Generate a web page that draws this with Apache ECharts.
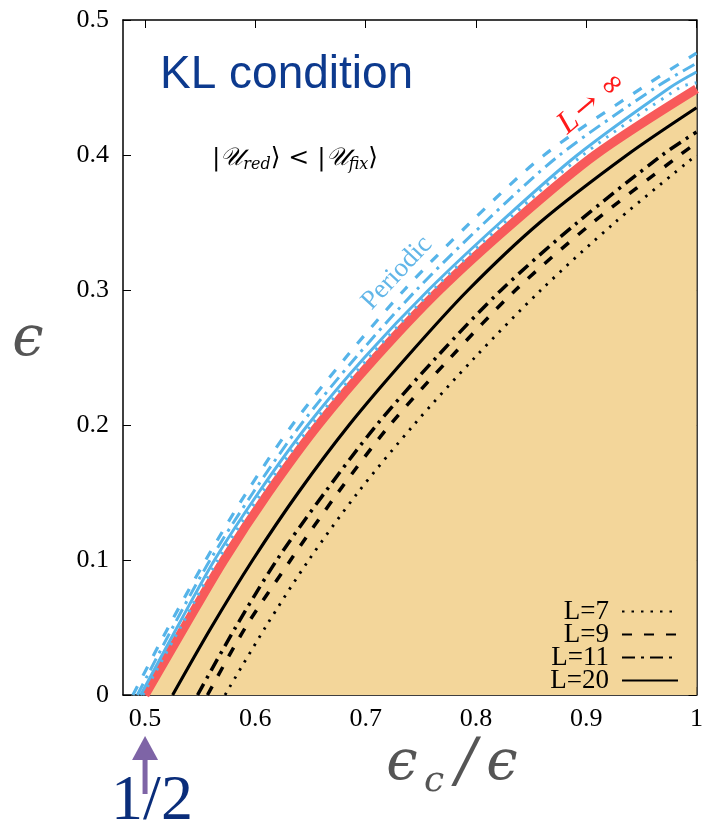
<!DOCTYPE html>
<html><head><meta charset="utf-8">
<script src="https://cdn.jsdelivr.net/npm/echarts@6/dist/echarts.min.js"></script>
<style>html,body{margin:0;padding:0;background:#fff}#c{width:706px;height:824px}</style>
</head><body><div id="c"></div>
<script>
// ---- data (x = eps_c/eps, y = eps) ----
const xTicks = [0.5, 0.6, 0.7, 0.8, 0.9, 1];
const yTicks = [0, 0.1, 0.2, 0.3, 0.4, 0.5];
const legendNames = ['L=7', 'L=9', 'L=11', 'L=20'];

const limitInf = [[0.5,0],[0.5355,0.05],[0.5716,0.1],[0.612,0.15],[0.657,0.2],[0.709,0.25],[0.767,0.3],[0.834,0.35],[0.908,0.4],[1.0,0.449]];
const open20 = [[0.525,0],[0.560,0.05],[0.5976,0.1],[0.639,0.15],[0.685,0.2],[0.737,0.25],[0.793,0.3],[0.858,0.35],[0.937,0.4],[1.0,0.435]];
const open11 = [[0.5476,0],[0.582,0.05],[0.6195,0.1],[0.663,0.15],[0.710,0.2],[0.764,0.25],[0.823,0.3],[0.892,0.35],[0.969,0.4],[1.0,0.417]];
const open9  = [[0.5566,0],[0.591,0.05],[0.632,0.1],[0.675,0.15],[0.722,0.2],[0.777,0.25],[0.836,0.3],[0.906,0.35],[0.985,0.4],[1.0,0.409]];
const open7  = [[0.5725,0],[0.609,0.05],[0.6485,0.1],[0.693,0.15],[0.7436,0.2],[0.799,0.25],[0.859,0.3],[0.926,0.35],[1.0,0.40]];
const per20 = [[0.496,0],[0.529,0.05],[0.563,0.1],[0.603,0.15],[0.6475,0.2],[0.699,0.25],[0.757,0.3],[0.822,0.35],[0.892,0.4],[0.976,0.45],[1.0,0.4615]];
const per9  = [[0.489,0],[0.521,0.05],[0.555,0.1],[0.592,0.15],[0.6335,0.2],[0.682,0.25],[0.735,0.3],[0.795,0.35],[0.862,0.4],[0.951,0.45],[1.0,0.4755]];
const per11 = [[0.493,0],[0.525,0.05],[0.559,0.1],[0.598,0.15],[0.641,0.2],[0.691,0.25],[0.746,0.3],[0.808,0.35],[0.876,0.4],[0.963,0.45],[1.0,0.468]];
const per7  = [[0.498,0],[0.532,0.05],[0.566,0.1],[0.606,0.15],[0.651,0.2],[0.703,0.25],[0.761,0.3],[0.826,0.35],[0.897,0.4],[0.985,0.45],[1.0,0.4535]];

const BLUE = '#56B4E9', RED = '#F85A5A', TAN = '#F3D69A';
const SERIF = "'Liberation Serif', 'DejaVu Serif', serif";
const DASH = [10, 12], DASHDOT = [13, 6, 3, 6], DOT = [2.5, 7];

const chart = echarts.init(document.getElementById('c'), null, {renderer: 'canvas'});

function line(name, data, color, width, type, z) {
  return {name, type: 'line', data, symbol: 'none', showSymbol: false, smooth: 0.3,
    lineStyle: {color, width, type, cap: 'butt'}, itemStyle: {color}, z, silent: true};
}
const tickFmt = v => (Math.abs(v) < 1e-9 ? '0' : (Math.abs(v - 1) < 1e-9 ? '1' : v.toFixed(1)));

const axCommon = {
  axisLine: {show: true, onZero: false, lineStyle: {color: '#000', width: 1.5}},
  splitLine: {show: false}
};

chart.setOption({
  animation: false,
  grid: {left: 123, top: 20, width: 579, height: 675, show: false},
  xAxis: [
    Object.assign({type: 'value', min: 0.48, max: 1.0, position: 'bottom',
      axisTick: {show: true, inside: true, length: 8, customValues: xTicks, lineStyle: {color: '#000', width: 1}},
      axisLabel: {show: true, customValues: xTicks, formatter: tickFmt, fontFamily: SERIF, fontSize: 26, color: '#000', margin: 11, showMaxLabel: true}
    }, axCommon),
    Object.assign({type: 'value', min: 0.48, max: 1.0, position: 'top',
      axisTick: {show: true, inside: true, length: 8, customValues: xTicks, lineStyle: {color: '#000', width: 1}},
      axisLabel: {show: false}
    }, axCommon)
  ],
  yAxis: [
    Object.assign({type: 'value', min: 0, max: 0.5, interval: 0.1, position: 'left',
      axisTick: {show: true, inside: true, length: 8, lineStyle: {color: '#000', width: 1}},
      axisLabel: {formatter: tickFmt, fontFamily: SERIF, fontSize: 26, color: '#000', margin: 14}
    }, axCommon),
    Object.assign({type: 'value', min: 0, max: 0.5, interval: 0.1, position: 'right',
      axisTick: {show: true, inside: true, length: 8, lineStyle: {color: '#000', width: 1}},
      axisLabel: {show: false}
    }, axCommon)
  ],
  legend: {
    data: legendNames, orient: 'vertical', right: 27, top: 598, align: 'right', padding: 0,
    itemWidth: 56, itemHeight: 12, itemGap: -4,
    itemStyle: {opacity: 0},
    textStyle: {fontFamily: SERIF, fontSize: 27, color: '#000', padding: [0, 8, 0, 0]},
    inactiveColor: '#000'
  },
  series: [
    {name: 'fill', type: 'line', data: limitInf, symbol: 'none', smooth: 0.3,
      lineStyle: {width: 0}, areaStyle: {color: TAN, opacity: 1, origin: 'start'}, z: 1, silent: true},
    line('L=7', open7, '#000', 2.8, DOT, 3),
    line('L=9', open9, '#000', 3.5, DASH, 3),
    line('L=11', open11, '#000', 3.5, DASHDOT, 3),
    line('L=20', open20, '#000', 3.2, 'solid', 3),
    line('L→∞', limitInf, RED, 9, 'solid', 4),
    line('P7', per7, BLUE, 3, DOT, 5),
    line('P11', per11, BLUE, 3, DASHDOT, 5),
    line('P9', per9, BLUE, 3.2, DASH, 5),
    line('P20', per20, BLUE, 3, 'solid', 5)
  ]
});

const ax = chart.convertToPixel({xAxisIndex: 0}, 0.5);
const mathRich = {
  b: {fontFamily: 'DejaVu Serif', fontSize: 25, fill: '#000', lineHeight: 30},
  U: {fontFamily: 'DejaVu Serif', fontSize: 25, fontStyle: 'italic', fill: '#000', lineHeight: 30},
  s: {fontFamily: 'DejaVu Serif', fontSize: 16, fontStyle: 'italic', fill: '#000', lineHeight: 12, verticalAlign: 'bottom'}
};
const deg = Math.PI / 180;
const epsFont = "italic 56px 'DejaVu Serif', serif";
chart.setOption({
  graphic: [
    {type: 'text', left: 160, top: 52, style: {text: 'KL condition', font: "46px 'Liberation Sans', Arial, sans-serif", fill: '#0D3A8E'}},
    {type: 'text', x: 295, y: 158, style: {text: '{b||}{U|𝒰}{s|red}{b|⟩ < |}{U|𝒰}{s|fix}{b|⟩}', rich: mathRich, align: 'center', verticalAlign: 'middle'}},
    {type: 'text', x: 527, y: 529, style: {text: '{b||}{U|𝒰}{s|red}{b|⟩ > |}{U|𝒰}{s|fix}{b|⟩}', rich: mathRich, align: 'center', verticalAlign: 'middle'}},
    {type: 'text', x: 397, y: 273, rotation: 47 * deg, style: {text: 'Periodic', font: "27px " + SERIF, fill: '#62B6E8', align: 'center', verticalAlign: 'middle'}},
    {type: 'text', x: 461, y: 399, rotation: 47 * deg, style: {text: 'Open', font: "26px " + SERIF, fill: '#000', align: 'center', verticalAlign: 'middle'}},
    {type: 'text', x: 592, y: 103, rotation: 40 * deg, style: {text: '{i|L} {n|→ ∞}', align: 'center', verticalAlign: 'middle',
      rich: {i: {fontFamily: SERIF, fontStyle: 'italic', fontSize: 32, fill: '#FF1A1A'}, n: {fontFamily: 'DejaVu Serif', fontSize: 29, fill: '#FF1A1A'}}}},
    {type: 'text', x: 28, y: 340, style: {text: 'ϵ', font: epsFont, fill: '#555', align: 'center', verticalAlign: 'middle'}},
    {type: 'text', x: 402, y: 764, style: {text: 'ϵ', font: epsFont, fill: '#555', align: 'center', verticalAlign: 'middle'}},
    {type: 'text', x: 434, y: 782, style: {text: 'c', font: "italic 36px 'DejaVu Serif', serif", fill: '#555', align: 'center', verticalAlign: 'middle'}},
    {type: 'text', x: 466, y: 764, style: {text: '/', font: "italic 60px 'DejaVu Serif', serif", fill: '#555', align: 'center', verticalAlign: 'middle'}},
    {type: 'text', x: 502, y: 764, style: {text: 'ϵ', font: epsFont, fill: '#555', align: 'center', verticalAlign: 'middle'}},
    {type: 'rect', shape: {x: ax - 2.5, y: 758, width: 5, height: 36}, style: {fill: '#7E64A6'}, z: 10},
    {type: 'polygon', shape: {points: [[ax, 736], [ax - 13, 760], [ax + 13, 760]]}, style: {fill: '#7E64A6'}, z: 10},
    {type: 'text', x: 152, y: 802, z: 11, style: {text: '1/2', font: "64px 'Liberation Serif', serif", fill: '#0A2D7A', align: 'center', verticalAlign: 'middle'}}
  ]
});
</script></body></html>
